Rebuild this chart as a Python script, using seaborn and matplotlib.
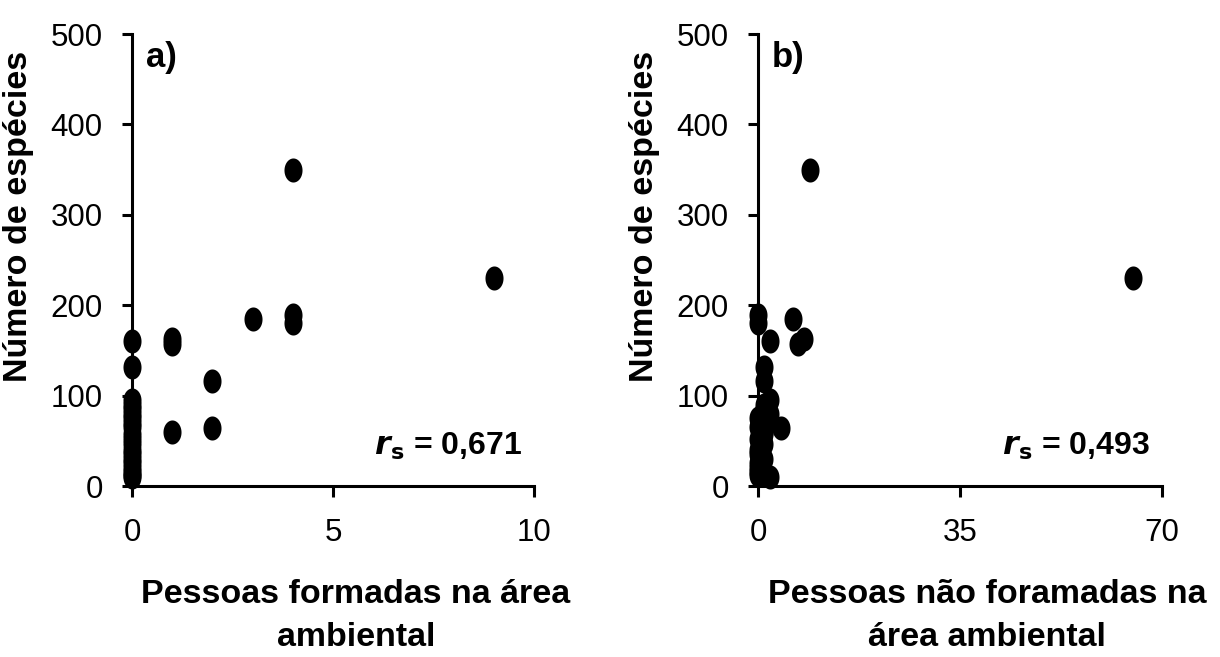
import numpy as np
import pandas as pd
import matplotlib
matplotlib.use("Agg")
import matplotlib.pyplot as plt
import seaborn as sns
from matplotlib import font_manager
from matplotlib.path import Path

# numero de especies por localidade e pessoas formadas / nao formadas
species = [350, 230, 185, 189, 180, 163, 157, 116, 60, 64, 160, 132, 95, 90, 85,
           80, 75, 70, 65, 58, 52, 46, 40, 35, 30, 25, 20, 16, 12, 10]
formadas = [4, 9, 3, 4, 4, 1, 1, 2, 1, 2, 0, 0, 0, 0, 0,
            0, 0, 0, 0, 0, 0, 0, 0, 0, 0, 0, 0, 0, 0, 0]
nao_formadas = [9, 65, 6, 0, 0, 8, 7, 1, 1, 4, 2, 1, 2, 1, 1,
                2, 0, 1, 0, 1, 0, 1, 0, 0, 1, 0, 0, 0, 0, 2]

panel_labels = ["a)", "b)"]
xlabels = ["Pessoas formadas na área\nambiental", "Pessoas não foramadas na\nárea ambiental"]
rs_values = ["0,671", "0,493"]
xticks = [[0, 5, 10], [0, 35, 70]]
yticks = [0, 100, 200, 300, 400, 500]

df = pd.DataFrame({"especies": species, "formadas": formadas, "nao_formadas": nao_formadas})

sns.set_style("ticks")
names = {f.name for f in font_manager.fontManager.ttflist}
narrow = "Liberation Sans Narrow" if "Liberation Sans Narrow" in names else "Liberation Sans"
plt.rcParams["font.family"] = [narrow, "DejaVu Sans"]
for key in ["text.color", "axes.labelcolor", "xtick.color", "ytick.color", "axes.edgecolor"]:
    plt.rcParams[key] = "black"
plt.rcParams["axes.linewidth"] = 2.2
plt.rcParams["xtick.major.width"] = 2.2
plt.rcParams["ytick.major.width"] = 2.2

# vertically stretched dot, like the original
t = np.linspace(0, 2 * np.pi, 80)
ellipse = Path(np.column_stack([0.75 * np.cos(t), np.sin(t)]), closed=True)

fig = plt.figure(figsize=(12.2, 6.57), dpi=100)
ax_a = fig.add_axes([132 / 1220, 171 / 657, 402 / 1220, 452 / 657])
ax_b = fig.add_axes([758 / 1220, 171 / 657, 404 / 1220, 452 / 657])

for i, (ax, col) in enumerate([(ax_a, "formadas"), (ax_b, "nao_formadas")]):
    sns.scatterplot(data=df, x=col, y="especies", ax=ax, marker=ellipse, s=300,
                    color="black", edgecolor="black", linewidth=0, clip_on=False, zorder=3)
    ax.set_xlim(xticks[i][0], xticks[i][-1])
    ax.set_ylim(0, 500)
    ax.set_xticks(xticks[i])
    ax.set_yticks(yticks)
    ax.tick_params(axis="y", length=7, pad=14, labelsize=22.5)
    ax.tick_params(axis="x", length=8, pad=15, labelsize=22.5)
    sns.despine(ax=ax)
    ax.set_xlabel(xlabels[i], fontsize=24.5, fontweight="bold", linespacing=1.5)
    ax.xaxis.set_label_coords(0.557 if i == 0 else 0.567, -0.205)
    ax.xaxis.label.set_va("top")
    ax.set_ylabel("Número de espécies", fontsize=24.5, fontweight="bold")
    ax.yaxis.set_label_coords(-0.243, 0.597)
    ax.text(0.035, 0.985, panel_labels[i], transform=ax.transAxes, fontsize=25,
            fontweight="bold", va="top", ha="left")
    ax.text(0.97, 0.07, r"$\mathbfit{r}_{\mathbf{s}}$ = " + rs_values[i], transform=ax.transAxes,
            fontsize=23, fontweight="bold", ha="right", va="baseline")

fig.savefig("out.png", dpi=100)
